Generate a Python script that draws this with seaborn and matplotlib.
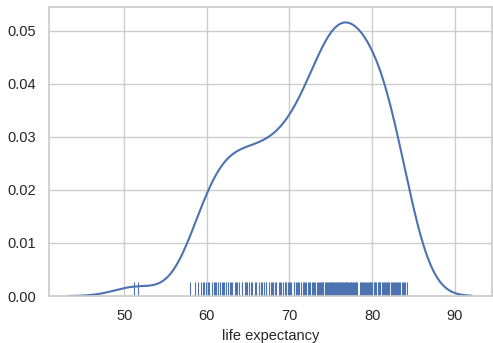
import numpy as np
import pandas as pd
import matplotlib
matplotlib.use("Agg")
import matplotlib.pyplot as plt
import seaborn as sns

life_expectancy = [
    51.2, 51.6,
    58.0, 58.5, 58.9,
    59.3, 59.5, 59.7, 59.9,
    60.1, 60.3, 60.6, 60.8, 60.95,
    61.1, 61.3, 61.6, 61.8, 61.9,
    62.1, 62.3, 62.6, 62.8, 62.9,
    63.0, 63.4, 63.5, 63.7, 63.9,
    64.2, 64.3, 64.6, 64.7, 64.9,
    65.1, 65.3, 65.5, 65.8, 65.9,
    66.0, 66.3, 66.5, 66.7, 66.9,
    67.1, 67.2, 67.5, 67.7, 67.9,
    68.0, 68.3, 68.4, 68.7, 68.9,
    69.0, 69.2, 69.4, 69.6, 69.8, 69.9,
    70.1, 70.2, 70.5, 70.6, 70.8, 70.9,
    71.0, 71.2, 71.4, 71.6, 71.8, 71.9,
    72.0, 72.2, 72.4, 72.5, 72.7, 72.8, 72.9,
    73.0, 73.1, 73.3, 73.4, 73.6, 73.7, 73.8, 73.9,
    74.0, 74.1, 74.3, 74.4, 74.5, 74.6, 74.7, 74.8, 74.9, 74.95,
    75.0, 75.1, 75.2, 75.3, 75.4, 75.5, 75.6, 75.7, 75.8, 75.9,
    76.0, 76.1, 76.2, 76.3, 76.4, 76.5, 76.6, 76.7, 76.8, 76.9, 76.95,
    77.0, 77.1, 77.2, 77.3, 77.4, 77.5, 77.6, 77.7, 77.8, 77.9,
    78.0, 78.1, 78.2, 78.5, 78.6, 78.7, 78.8, 78.9,
    79.0, 79.1, 79.3, 79.4, 79.5, 79.6, 79.7, 79.8, 79.9,
    80.0, 80.2, 80.3, 80.4, 80.5, 80.7, 80.8, 80.9, 80.95,
    81.0, 81.2, 81.3, 81.4, 81.6, 81.7, 81.8, 81.9,
    82.0, 82.1, 82.3, 82.4, 82.5, 82.7, 82.8, 82.9,
    83.0, 83.1, 83.3, 83.4, 83.6, 83.8, 83.9,
    84.0, 84.2,
]
x_label = "life expectancy"

sns.set_theme(style="whitegrid")
plt.rcParams['font.family'] = ['Liberation Sans', 'DejaVu Sans']

df = pd.DataFrame({"life": life_expectancy})
color = "#4C72B0"

fig = plt.figure(figsize=(4.93, 3.43), dpi=100)
ax = fig.add_axes([0.0994, 0.137, 0.8986, 0.8426])

sns.kdeplot(data=df, x="life", ax=ax, color=color, linewidth=1.5)
sns.rugplot(data=df, x="life", ax=ax, color=color, height=0.05, linewidth=0.8)

ax.set_ylim(0, 0.0545)
ax.set_xlabel(x_label, fontsize=10.5)
ax.set_ylabel("")
ax.tick_params(labelsize=10.5)
ax.set_xticks([50, 60, 70, 80, 90])
ax.set_yticks([0.0, 0.01, 0.02, 0.03, 0.04, 0.05])
ax.yaxis.set_major_formatter(matplotlib.ticker.FormatStrFormatter("%.2f"))

fig.savefig("out.png", dpi=100)
